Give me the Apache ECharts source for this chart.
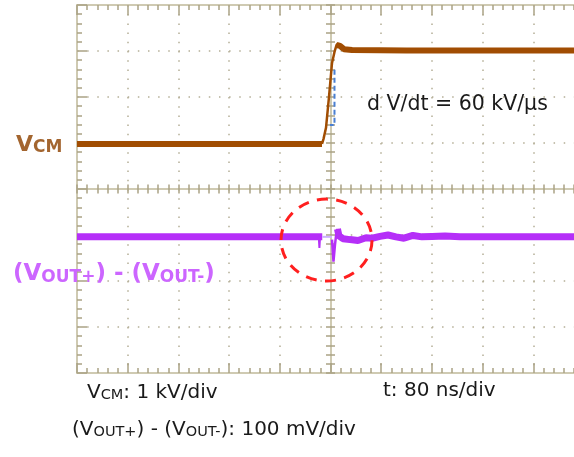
<!DOCTYPE html>
<html><head><meta charset="utf-8">
<script src="https://cdn.jsdelivr.net/npm/echarts@6/dist/echarts.min.js"></script>
<style>html,body{margin:0;padding:0;background:#fff;overflow:hidden;width:574px;height:457px}#c{width:600px;height:457px}</style>
</head><body><div id="c"></div>
<script>
// time axis: ns, 80 ns/div ; VCM axis: kV, 1 kV/div ; Vout axis: mV, 100 mV/div
const timeAxis = {min: -400, max: 400, interval: 80};
const vcmAxis = {min: -5, max: 3, interval: 1};
const voutAxis = {min: -300, max: 500, interval: 100};

// VCM trace (kV)
const vcmLow = [[-400, -0.02], [-13.4, -0.02]];
const vcmEdge = [[-13.4, -0.02], [-11, 0.09], [-7.1, 0.33], [-2.4, 1.0], [2.4, 1.74], [6.3, 1.98], [9.5, 2.13], [11.8, 2.17]];
const vcmHigh = [[9.5, 2.13], [11.8, 2.17], [15, 2.11], [21.3, 2.04], [34, 2.02], [120, 2.01], [400, 2.01]];
const dvdtMarker = [[6.3, 1.59], [6.3, 0.39], [-0.8, 0.39]];

// (VOUT+) - (VOUT-) trace (mV)
const voutLeft = [[-400, -4], [-13, -4]];
const voutFast = [[-13, -4], [2.4, -4]];
const voutSpike1 = [[-18.5, -4], [-17.5, -28], [-16.5, -4]];
const voutSpike2 = [[2.4, -10], [4.7, -58], [7.1, -21], [8.7, -2], [11, 13], [13.4, -2]];
const voutRight = [[11, 13], [13.4, -2], [19.7, -8], [30.8, -10], [43.4, -12], [56, -6], [65.5, -7], [78.1, -3], [90.7, 0], [103.3, -4], [115.9, -7], [130.1, -1], [144.4, -4], [160.2, -3], [180.7, -2], [204.3, -4], [400, -4]];

// highlight ellipse: centre t (ns), centre (mV), half width (ns), half height (mV)
const highlight = [[-6.3, -11, 71.8, 89]];

const FRAME = '#cfcab2', TICK = '#aaa385', DOT = '#b4ae96';
const BROWN = '#a14d02', PURPLE = '#b52ff8';

function xAx(pos, offset, opts) {
  return Object.assign({type: 'value', position: pos, offset: offset, min: timeAxis.min, max: timeAxis.max, interval: timeAxis.interval,
    axisLabel: {show: false}, splitLine: {show: false}, axisLine: {show: true, onZero: false, lineStyle: {color: FRAME, width: 2}}}, opts);
}
function yAx(pos, offset, ax, opts) {
  return Object.assign({type: 'value', position: pos, offset: offset, min: ax.min, max: ax.max, interval: ax.interval,
    axisLabel: {show: false}, splitLine: {show: false}, axisLine: {show: true, onZero: false, lineStyle: {color: FRAME, width: 2}}}, opts);
}
const frameTick = {show: true, inside: true, length: 10, lineStyle: {color: TICK, width: 1.5}};
const frameMinor = {show: true, splitNumber: 5, length: 5, lineStyle: {color: TICK, width: 1.5}};
const crossTick = {show: true, inside: true, length: 4.5, lineStyle: {color: TICK, width: 1.5}};
const crossMinor = {show: true, splitNumber: 5, length: 4.5, lineStyle: {color: TICK, width: 1.5}};

const chart = echarts.init(document.getElementById('c'), null, {renderer: 'canvas'});
const line = (data, color, width, yIdx, extra) => Object.assign({type: 'line', data: data, xAxisIndex: 0, yAxisIndex: yIdx, showSymbol: false, symbol: 'none',
  lineStyle: {color: color, width: width}, animation: false, silent: true, z: 5}, extra || {});

const txt = {fontFamily: 'DejaVu Sans', fontSize: 20, fill: '#1a1a1a'};
const richBlack = {v: {fontFamily: 'DejaVu Sans', fontSize: 20, lineHeight: 24, verticalAlign: 'bottom', fill: '#1a1a1a'},
                   s: {fontFamily: 'DejaVu Sans', fontSize: 14.5, lineHeight: 15, verticalAlign: 'bottom', fill: '#1a1a1a'}};
chart.setOption({
  animation: false,
  grid: {left: 77, top: 5, width: 507, height: 368, show: false},
  xAxis: [
    xAx('bottom', 0, {axisTick: frameTick, minorTick: frameMinor, splitLine: {show: true, lineStyle: {color: DOT, width: 1.5, type: [1.5, 7.7]}}}),
    xAx('top', 0, {axisTick: frameTick, minorTick: frameMinor}),
    xAx('bottom', -184, {axisTick: crossTick, minorTick: crossMinor}),
    xAx('top', -184, {axisTick: crossTick, minorTick: crossMinor, axisLine: {show: false}})
  ],
  yAxis: [
    yAx('left', 0, vcmAxis, {axisTick: frameTick, minorTick: frameMinor, splitLine: {show: true, lineStyle: {color: DOT, width: 1.5, type: [1.5, 8.64]}}}),
    yAx('right', 0, voutAxis, {axisLine: {show: false}, axisTick: {show: false}}),
    yAx('left', -253.5, vcmAxis, {axisTick: crossTick, minorTick: crossMinor}),
    yAx('right', -253.5, vcmAxis, {axisTick: crossTick, minorTick: crossMinor, axisLine: {show: false}})
  ],
  series: [
    line(vcmLow, BROWN, 6, 0),
    line(vcmHigh, BROWN, 6, 0),
    line(vcmEdge, BROWN, 2.5, 0),
    line(dvdtMarker, '#4a7fd2', 2, 0, {lineStyle: {color: '#4a7fd2', width: 2, type: [5, 3]}, z: 6}),
    line(voutLeft, PURPLE, 7, 1),
    line(voutRight, PURPLE, 7, 1),
    line(voutFast, '#cdb0ff', 2, 1),
    line(voutSpike1, PURPLE, 2, 1),
    line(voutSpike2, PURPLE, 2.5, 1),
    {
      type: 'custom', xAxisIndex: 0, yAxisIndex: 1, data: highlight, z: 10, silent: true, animation: false, clip: false,
      renderItem: function (params, api) {
        const c = api.coord([api.value(0), api.value(1)]);
        const s = api.size([api.value(2), api.value(3)]);
        return {type: 'ellipse', shape: {cx: c[0], cy: c[1], rx: s[0], ry: s[1]},
          style: {fill: 'none', stroke: '#ff1f1f', lineWidth: 3, lineDash: [11, 8.4]}};
      }
    }
  ],
  graphic: [
    {type: 'text', x: 16, y: 130, z: 20, style: {text: '{v|V}{s|CM}', verticalAlign: 'top',
      rich: {v: {fontFamily: 'DejaVu Sans', fontWeight: 'bold', fontSize: 22, lineHeight: 26, verticalAlign: 'bottom', fill: '#a3652f'},
             s: {fontFamily: 'DejaVu Sans', fontWeight: 'bold', fontSize: 17, lineHeight: 17, verticalAlign: 'bottom', fill: '#a3652f'}}}},
    {type: 'text', x: 13, y: 258, z: 20, style: {text: '{v|(V}{s|OUT+}{v|) - (V}{s|OUT-}{v|)}', verticalAlign: 'top',
      rich: {v: {fontFamily: 'DejaVu Sans', fontWeight: 'bold', fontSize: 23, lineHeight: 28, verticalAlign: 'bottom', fill: '#cc66ff'},
             s: {fontFamily: 'DejaVu Sans', fontWeight: 'bold', fontSize: 17, lineHeight: 18, verticalAlign: 'bottom', fill: '#cc66ff'}}}},
    {type: 'text', x: 367, y: 94, z: 20, style: Object.assign({text: 'd V/dt = 60 kV/µs', verticalAlign: 'top'}, txt, {fontSize: 20.5})},
    {type: 'text', x: 87, y: 379, z: 20, style: {text: '{v|V}{s|CM}{v|: 1 kV/div}', verticalAlign: 'top', rich: richBlack}},
    {type: 'text', x: 383, y: 381, z: 20, style: Object.assign({text: 't: 80 ns/div', verticalAlign: 'top'}, txt)},
    {type: 'text', x: 72, y: 416, z: 20, style: {text: '{v|(V}{s|OUT+}{v|) - (V}{s|OUT-}{v|): 100 mV/div}', verticalAlign: 'top', rich: richBlack}}
  ]
});
</script>
</body></html>
